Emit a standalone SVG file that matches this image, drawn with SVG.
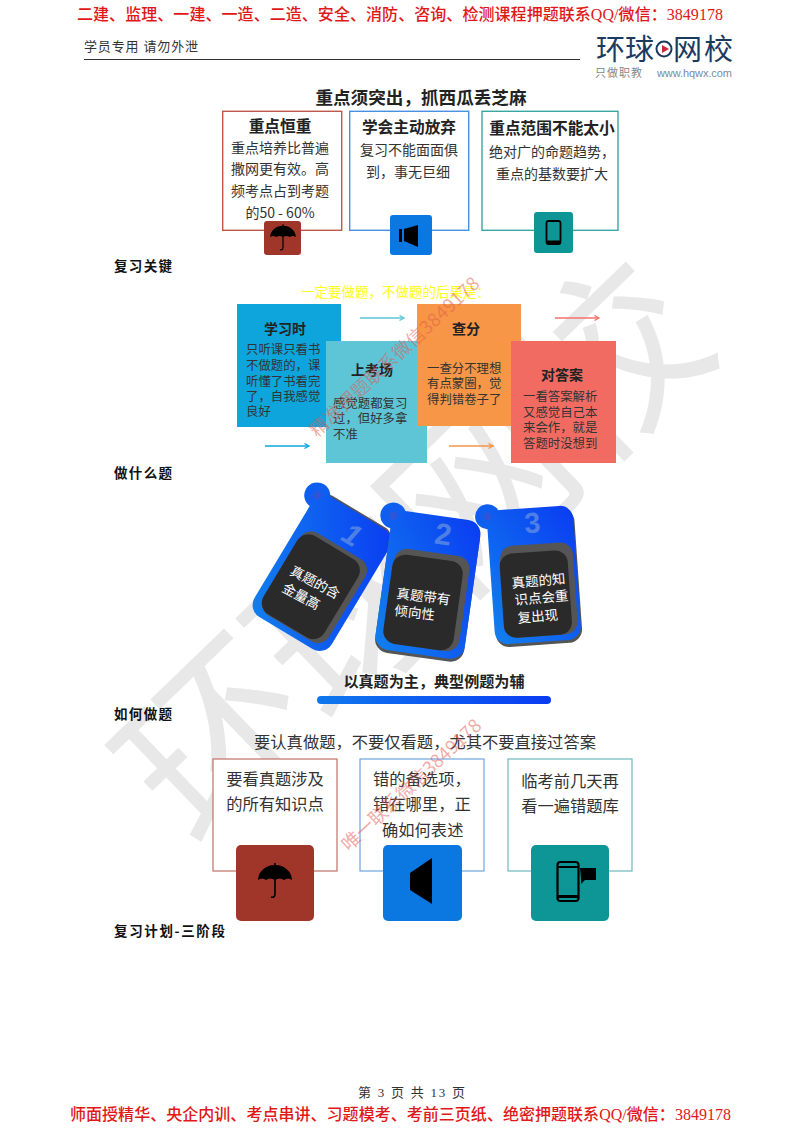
<svg xmlns="http://www.w3.org/2000/svg" width="800" height="1132" viewBox="0 0 800 1132">
<defs>
<linearGradient id="cb" x1="0" y1="1" x2="1" y2="0"><stop offset="0" stop-color="#1280ee"/><stop offset="1" stop-color="#0a3cf2"/></linearGradient>
<linearGradient id="bar" x1="0" x2="1"><stop offset="0" stop-color="#0f78ee"/><stop offset="1" stop-color="#0a3cf2"/></linearGradient>
<marker id="ab" markerWidth="7" markerHeight="7" refX="5.5" refY="3" orient="auto" markerUnits="userSpaceOnUse"><path d="M1 .5L5.500 3L1 5.500" fill="none" stroke="context-stroke" stroke-width="1.300"/></marker>
<g id="card"><circle cx="-44" cy="-64" r="13" fill="#0f5ef0"/><rect x="-45" y="-70" width="90" height="140" rx="14" fill="url(#cb)"/><circle cx="-44" cy="-64" r="4" fill="#2f55d8"/></g>
<rect id="shadow" x="-45" y="-70" width="90" height="140" rx="14" fill="#555"/>
<g id="umb"><path d="M-17 0A17 15 0 0 1 17 0Q13-3 9 0Q5-3 0 0Q-5-3-9 0Q-13-3-17 0Z" fill="#000"/><path d="M0-17V14Q0 18-4 17" fill="none" stroke="#000" stroke-width="1.600"/></g>
</defs>
<style>
text{font-family:"Noto Sans CJK SC","Noto Sans",sans-serif;fill:#222}
.b{font-weight:700}
.hd{font-family:"Liberation Serif","Noto Sans CJK SC",serif;fill:#e01818;font-size:16px;font-weight:500}
.s{font-family:"Liberation Serif","Noto Sans CJK SC",serif;fill:#333}
.lab{font-size:13.5px;font-weight:700;fill:#111}
.t1{font-size:15.7px;font-weight:700;text-anchor:middle}
.t2{font-size:14px;fill:#333}
.m{text-anchor:middle}
.t3{font-size:12.4px;fill:#333}
.t4{font-size:14px;font-weight:700;text-anchor:middle}
.t5{font-size:16.3px;fill:#333}
.w{fill:#fff;font-size:13.5px}
.n{fill:#4d80e6;font-size:30px;font-weight:700;font-family:"Liberation Sans",sans-serif;text-anchor:middle}
.wm{fill:#e8e8e8;font-size:185px;letter-spacing:-4px}
.pk{fill:#e05a50;fill-opacity:.5;font-size:18.500px}
.bx{fill:#fff;stroke-width:1.400}
</style>
<rect width="800" height="1132" fill="#fff"/>
<text class="wm" transform="translate(198,853) rotate(-44)">环球网校</text>
<g id="header">
<text class="hd" x="77" y="20" textLength="646">二建、监理、一建、一造、二造、安全、消防、咨询、检测课程押题联系QQ/微信：3849178</text>
<text class="s" x="84" y="51" font-size="13" textLength="114">学员专用 请勿外泄</text>
<rect x="84" y="59" width="496" height="1" fill="#333"/>
</g>
<g id="logo">
<text x="596" y="60" font-size="29" style="fill:#1c3a5e" textLength="58">环球</text>
<circle cx="664" cy="49" r="7.500" fill="none" stroke="#1c3a5e" stroke-width="2"/>
<path d="M662 45L669 49L662 53Z" fill="#c8283c"/>
<text x="673" y="60" font-size="29" style="fill:#1c3a5e" textLength="60">网校</text>
<text x="595" y="77" font-size="11" style="fill:#888" textLength="47">只做职教</text>
<text x="657" y="77" font-size="11" style="font-family:'Liberation Sans',sans-serif;fill:#7a8aa0" textLength="75">www.hqwx.com</text>
</g>
<text class="b m" x="421" y="104" font-size="17.600">重点须突出，抓西瓜丢芝麻</text>
<g id="n1"><rect class="bx" x="222.700" y="111.300" width="119" height="119" stroke="#c0574c"/>
<text class="t1" x="280" y="132">重点恒重</text>
<text class="t2 m" x="280" y="153">重点培养比普遍</text><text class="t2 m" x="280" y="174">撒网更有效。高</text><text class="t2 m" x="280" y="196">频考点占到考题</text><text class="t2 m" x="280" y="218">的50 - 60%</text>
<rect x="264" y="221" width="37" height="34" rx="3" fill="#a0362a"/><use href="#umb" transform="translate(283,237) scale(.75)"/></g>
<g id="n2"><rect class="bx" x="349.700" y="111.300" width="119" height="119" stroke="#4a90e2"/>
<text class="t1" x="409" y="133">学会主动放弃</text>
<text class="t2 m" x="409" y="155">复习不能面面俱</text><text class="t2 m" x="408" y="177">到，事无巨细</text>
<rect x="390" y="215" width="42" height="40" rx="3" fill="#0a78e0"/><path d="M399 229H402V242H399Z M404 229L418 225V247L404 241Z" fill="#000"/></g>
<g id="n3"><rect class="bx" x="482" y="111.300" width="136" height="119" stroke="#3aa6a0"/>
<text class="t1" x="552" y="134">重点范围不能太小</text>
<text class="t2" x="489" y="157">绝对广的命题趋势，</text><text class="t2" x="496" y="179">重点的基数要扩大</text>
<rect x="534" y="212" width="39" height="41" rx="3" fill="#0e9696"/><rect x="546.500" y="221" width="14" height="23" rx="2" fill="none" stroke="#000" stroke-width="1.800"/><rect x="547" y="240.500" width="13" height="3" fill="#000"/></g>
<text class="lab" x="114" y="271" textLength="58">复习关键</text>
<text x="301" y="297" font-size="13.500" style="fill:#ffff20">一定要做题，不做题的后果是：</text>
<g id="n4"><rect x="237" y="304" width="104" height="123" fill="#0ea5dc"/><text class="t4" x="285" y="334">学习时</text><text class="t3" x="246" y="354">只听课只看书</text><text class="t3" x="246" y="370">不做题的，课</text><text class="t3" x="246" y="386">听懂了书看完</text><text class="t3" x="246" y="401">了，自我感觉</text><text class="t3" x="246" y="416">良好</text></g>
<g id="n5"><rect x="326" y="341" width="101" height="122" fill="#5ec5d6"/><text class="t4" x="372" y="375">上考场</text><text class="t3" x="333" y="408">感觉题都复习</text><text class="t3" x="333" y="423">过，但好多拿</text><text class="t3" x="333" y="439">不准</text></g>
<g id="n6"><rect x="417" y="304" width="104" height="122" fill="#f79646"/><text class="t4" x="466" y="334">查分</text><text class="t3" x="427" y="373">一查分不理想</text><text class="t3" x="427" y="388">有点蒙圈，觉</text><text class="t3" x="427" y="404">得判错卷子了</text></g>
<g id="n7"><rect x="511" y="341" width="105" height="122" fill="#f26b63"/><text class="t4" x="562" y="380">对答案</text><text class="t3" x="523" y="401">一看答案解析</text><text class="t3" x="523" y="417">又感觉自己本</text><text class="t3" x="523" y="432">来会作，就是</text><text class="t3" x="523" y="448">答题时没想到</text></g>
<g id="connectors" fill="none" stroke-width="1.400" marker-end="url(#ab)">
<path d="M360 318H404" stroke="#5ec5d6"/><path d="M555 318H599" stroke="#f4736b"/><path d="M265 446H309" stroke="#0ea5dc"/><path d="M449 446H493" stroke="#f79646"/>
</g>
<text class="lab" x="114" y="478" textLength="58">做什么题</text>
<g id="c1" transform="translate(322,573) rotate(31)"><use href="#shadow" x="0" y="-3" transform="scale(.98)"/><use href="#card"/><text class="n" x="6" y="-38" font-style="italic">1</text><rect x="-37" y="-32" width="76" height="96" rx="13" fill="#555"/><rect x="-38" y="-28" width="71" height="91" rx="13" fill="#2a2a2a"/></g>
<text class="w" transform="translate(289,574) rotate(28)">真题的含</text><text class="w" transform="translate(281,591) rotate(28)">金量高</text>
<g id="c2" transform="translate(428,585) rotate(8)"><use href="#shadow" y="3"/><use href="#card"/><text class="n" x="8" y="-42">2</text><rect x="-37" y="-33" width="76" height="96" rx="13" fill="#555"/><rect x="-38" y="-27" width="71" height="90" rx="13" fill="#2a2a2a"/></g>
<text class="w" transform="translate(396,598) rotate(7)">真题带有</text><text class="w" transform="translate(394,615) rotate(7)">倾向性</text>
<g id="c3" transform="translate(534,575) rotate(-4) scale(.96)"><use href="#shadow" x="1" y="3"/><use href="#card"/><text class="n" x="2" y="-44">3</text><rect x="-34" y="-32" width="76" height="96" rx="13" fill="#555"/><rect x="-35" y="-24" width="71" height="88" rx="13" fill="#2a2a2a"/></g>
<text class="w" transform="translate(512,588) rotate(-5)">真题的知</text><text class="w" transform="translate(515,605) rotate(-5)">识点会重</text><text class="w" transform="translate(518,623) rotate(-5)">复出现</text>
<text class="b m" x="434" y="687" font-size="15.100">以真题为主，典型例题为辅</text>
<rect x="317" y="696" width="234" height="8" rx="4" fill="url(#bar)"/>
<text class="lab" x="114" y="719" textLength="58">如何做题</text>
<text class="m" x="425" y="748" font-size="16.300" style="fill:#333">要认真做题，不要仅看题，尤其不要直接过答案</text>
<g id="n8"><rect x="213" y="759" width="124" height="112" fill="#fff" stroke="#c07068" stroke-width="1.200"/><text class="t5 m" x="275" y="785">要看真题涉及</text><text class="t5 m" x="275" y="810">的所有知识点</text>
<rect x="236" y="845" width="78" height="76" rx="5" fill="#a0362a"/><use href="#umb" transform="translate(275,880)"/></g>
<g id="n9"><rect x="360" y="759" width="124" height="112" fill="#fff" stroke="#70a4e0" stroke-width="1.200"/><text class="t5" x="373" y="785">错的备选项，</text><text class="t5" x="373" y="810">错在哪里，正</text><text class="t5" x="382" y="836">确如何表述</text>
<rect x="383" y="845" width="79" height="76" rx="5" fill="#0a78e0"/><path d="M410 873L432 858V904L410 890Z" fill="#000"/></g>
<g id="n10"><rect x="508" y="759" width="124" height="112" fill="#fff" stroke="#70b8bc" stroke-width="1.200"/><text class="t5 m" x="570" y="787">临考前几天再</text><text class="t5 m" x="570" y="812">看一遍错题库</text>
<rect x="531" y="845" width="78" height="76" rx="5" fill="#0e9696"/><rect x="557.500" y="862" width="21" height="39" rx="3" fill="none" stroke="#000" stroke-width="2.200"/><rect x="558" y="866" width="20" height="2" fill="#000"/><rect x="558" y="895" width="20" height="3" fill="#000"/><path d="M580 868H596V880H585L581 884V879Z" fill="#000"/></g>
<text class="lab" x="114" y="936" textLength="111">复习计划-三阶段</text>
<text class="pk" transform="translate(317,438) rotate(-43)" textLength="224">精准押题联系微信3849178</text>
<text class="pk" transform="translate(349,852) rotate(-43)" textLength="183">唯一联系微信3849178</text>
<text class="s" x="358" y="1097" font-size="13" textLength="107">第 3 页 共 13 页</text>
<text class="hd" x="70" y="1120" textLength="661">师面授精华、央企内训、考点串讲、习题模考、考前三页纸、绝密押题联系QQ/微信：3849178</text>
</svg>
